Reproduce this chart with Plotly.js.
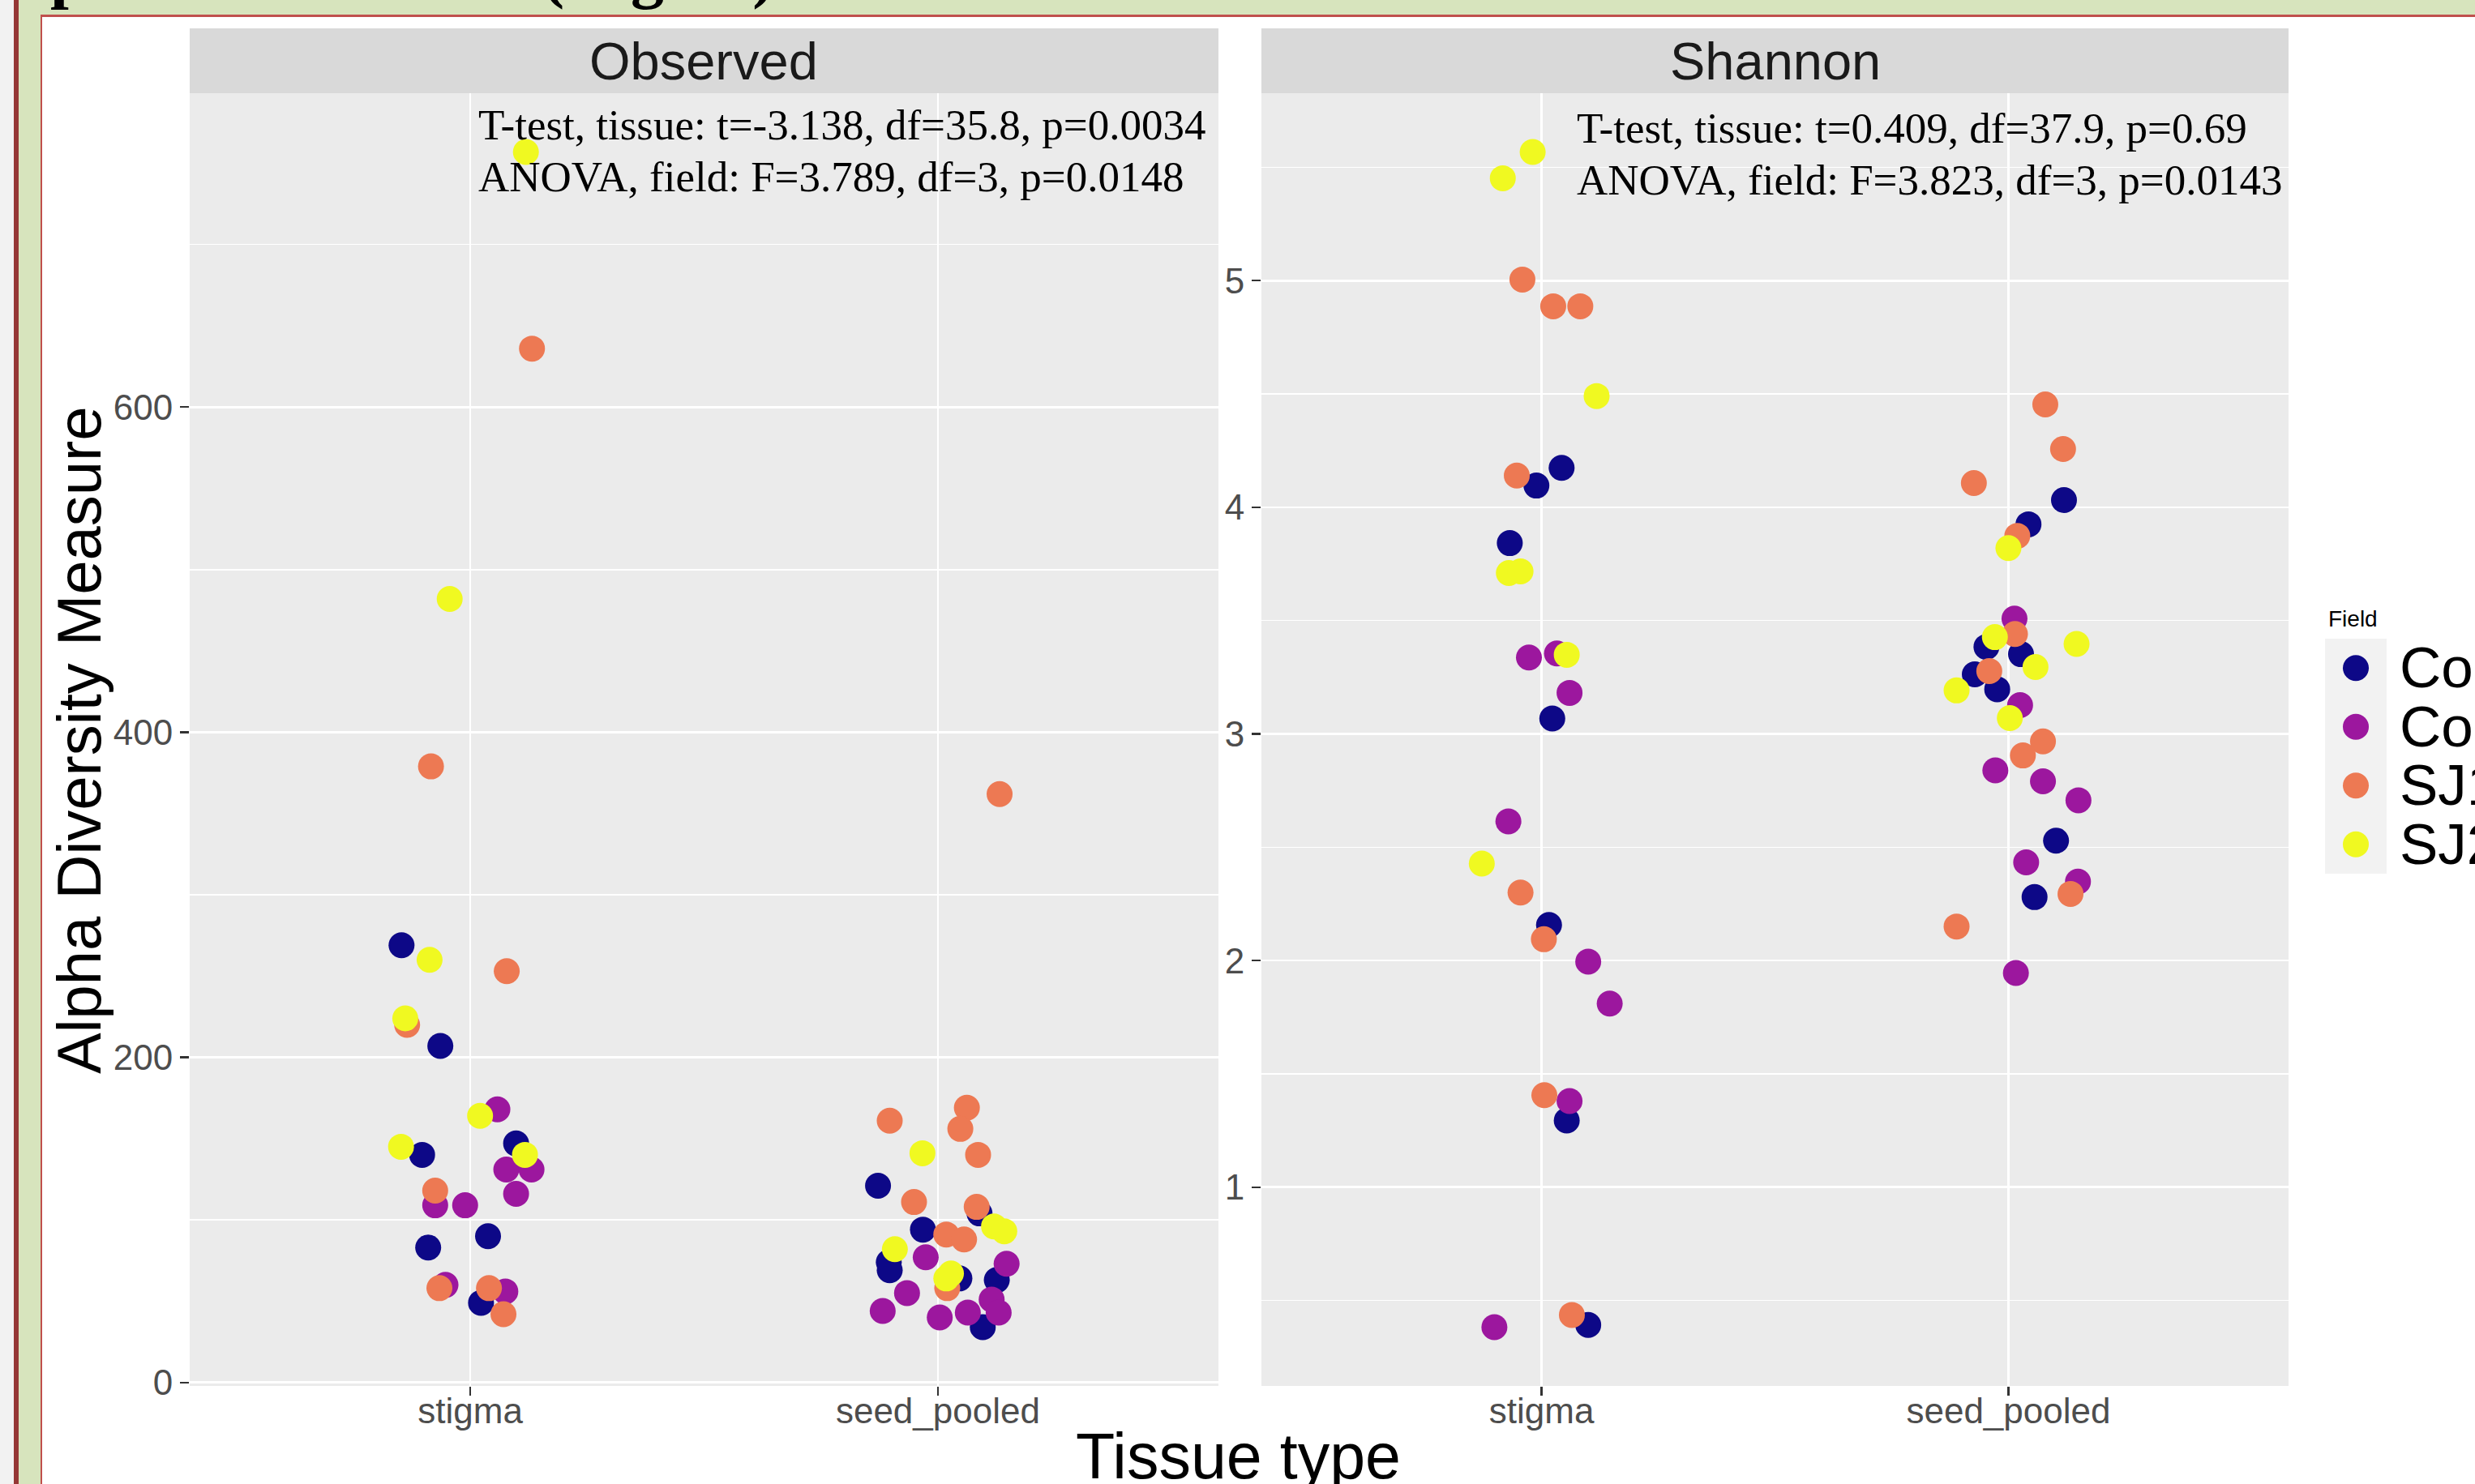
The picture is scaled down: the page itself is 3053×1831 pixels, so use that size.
<!DOCTYPE html>
<html>
<head>
<meta charset="utf-8">
<script src="https://cdn.plot.ly/plotly-3.0.1.min.js"></script>
<style>
html,body{margin:0;padding:0;background:#ffffff;overflow:hidden;}
#chart{position:absolute;left:0;top:0;width:3053px;height:1831px;}
#slideTitle{position:absolute;left:62px;top:-74px;font-family:"Liberation Serif","Times New Roman",serif;font-weight:bold;font-size:82px;line-height:82px;color:#000;white-space:nowrap;z-index:10;}
</style>
</head>
<body>
<div id="chart"></div>
<div id="slideTitle">pilot data results (stigma)</div>
<script>
// ---------- data ----------
const categories = ['stigma', 'seed_pooled'];
const fields = ['Co1', 'Co2', 'SJ1', 'SJ2'];
const fieldColors = ['#0D0887', '#9C179E', '#ED7953', '#F0F921'];
const facetTitles = ['Observed', 'Shannon'];
const statsObserved = ['T-test, tissue: t=-3.138, df=35.8, p=0.0034', 'ANOVA, field: F=3.789, df=3, p=0.0148'];
const statsShannon = ['T-test, tissue: t=0.409, df=37.9, p=0.69', 'ANOVA, field: F=3.823, df=3, p=0.0143'];

// Observed richness: tissue index (0 stigma, 1 seed_pooled), jitter offset, value
const obsCo1Tissue = [0,0,0,0,0,0,0, 1,1,1,1,1,1,1,1];
const obsCo1Jitter = [-0.147,-0.064,0.098,-0.103,0.038,-0.090,0.023, -0.128,0.089,-0.032,-0.105,-0.103,0.126,0.046,0.096];
const obsCo1Value  = [269,207,147,140,90,83,49, 121,104,94,74,69,63,64,34];
const obsCo2Tissue = [0,0,0,0,0,0,0,0, 1,1,1,1,1,1,1,1];
const obsCo2Jitter = [0.058,0.077,0.131,0.098,-0.075,-0.011,-0.053,0.075, -0.026,0.147,-0.066,-0.118,0.004,0.064,0.115,0.130];
const obsCo2Value  = [168,131,131,116,109,109,60,56, 77,73,55,44,40,43,51,43];
const obsSJ1Tissue = [0,0,0,0,0,0,0,0, 1,1,1,1,1,1,1,1,1,1];
const obsSJ1Jitter = [0.078,-0.135,-0.075,-0.066,0.040,0.071,0.132,-0.084, -0.103,0.062,0.048,0.086,-0.051,0.083,0.018,0.056,0.020,0.132];
const obsSJ1Value  = [253,220,118,58,58,42,636,379, 161,169,156,140,111,108,91,88,58,362];
const obsSJ2Tissue = [0,0,0,0,0,0,0, 1,1,1,1,1,1];
const obsSJ2Jitter = [-0.087,-0.139,0.021,0.117,-0.148,0.119,-0.044, -0.033,0.120,0.142,-0.092,0.028,0.018];
const obsSJ2Value  = [260,224,164,140,145,757,482, 141,96,93,82,67,64];

// Shannon index
const shaCo1Tissue = [0,0,0,0,0,0,0, 1,1,1,1,1,1,1,1];
const shaCo1Jitter = [-0.011,0.043,-0.068,0.023,0.016,0.054,0.100, 0.119,0.043,-0.047,0.027,-0.072,-0.024,0.102,0.056];
const shaCo1Value  = [4.096,4.174,3.842,3.068,2.157,1.294,0.392, 4.032,3.925,3.384,3.352,3.263,3.197,2.529,2.280];
const shaCo2Tissue = [0,0,0,0,0,0,0,0, 1,1,1,1,1,1,1,1];
const shaCo2Jitter = [-0.027,0.033,0.060,-0.071,0.100,0.146,0.060,-0.101, 0.013,0.025,-0.028,0.074,0.150,0.038,0.149,0.016];
const shaCo2Value  = [3.337,3.355,3.181,2.614,1.995,1.810,1.380,0.382, 3.509,3.127,2.839,2.791,2.707,2.433,2.348,1.945];
const shaSJ1Tissue = [0,0,0,0,0,0,0,0, 1,1,1,1,1,1,1,1,1,1];
const shaSJ1Jitter = [-0.041,0.025,0.083,-0.053,-0.045,0.005,0.006,0.065, 0.079,0.117,-0.074,0.019,0.014,-0.041,0.074,0.031,0.133,-0.111];
const shaSJ1Value  = [5.005,4.887,4.887,4.140,2.300,2.094,1.406,0.436, 4.454,4.257,4.107,3.874,3.441,3.277,2.967,2.905,2.294,2.150];
const shaSJ2Tissue = [0,0,0,0,0,0,0, 1,1,1,1,1,1];
const shaSJ2Jitter = [-0.019,-0.083,0.118,-0.070,-0.045,0.054,-0.128, 0.000,-0.029,0.146,0.058,-0.111,0.003];
const shaSJ2Value  = [5.568,5.452,4.491,3.710,3.717,3.349,2.428, 3.820,3.427,3.397,3.295,3.192,3.070];

// ---------- layout helpers ----------
const W = 3053, H = 1831;
const fx = v => v / W;
const fy = v => 1 - v / H;
const SANS = '"Liberation Sans", Arial, Helvetica, sans-serif';
const SERIF = '"Liberation Serif", "Times New Roman", serif';

const obsGroups = [
  [obsCo1Tissue, obsCo1Jitter, obsCo1Value],
  [obsCo2Tissue, obsCo2Jitter, obsCo2Value],
  [obsSJ1Tissue, obsSJ1Jitter, obsSJ1Value],
  [obsSJ2Tissue, obsSJ2Jitter, obsSJ2Value]
];
const shaGroups = [
  [shaCo1Tissue, shaCo1Jitter, shaCo1Value],
  [shaCo2Tissue, shaCo2Jitter, shaCo2Value],
  [shaSJ1Tissue, shaSJ1Jitter, shaSJ1Value],
  [shaSJ2Tissue, shaSJ2Jitter, shaSJ2Value]
];

function makeTraces(groups, xa, ya) {
  return groups.map((g, k) => ({
    type: 'scatter', mode: 'markers', name: fields[k],
    x: g[0].map((t, i) => t + 1 + g[1][i]),
    y: g[2],
    xaxis: xa, yaxis: ya,
    marker: {color: fieldColors[k], size: 32, line: {width: 0}},
    showlegend: false, hoverinfo: 'skip'
  }));
}
function ggRange(groups) {
  const all = [].concat(...groups.map(g => g[2]));
  const mn = Math.min(...all), mx = Math.max(...all);
  const d = (mx - mn) * 0.05;
  return [mn - d, mx + d];
}

const traces = [].concat(
  makeTraces(obsGroups, 'x', 'y'),
  makeTraces(shaGroups, 'x2', 'y2'),
  [{
    type: 'scatter', mode: 'markers',
    x: fields.map(() => 0.5), y: fields.map((f, i) => i + 0.5),
    xaxis: 'x3', yaxis: 'y3',
    marker: {color: fieldColors, size: 32, line: {width: 0}},
    showlegend: false, hoverinfo: 'skip'
  }]
);

const axisCommon = {
  showgrid: true, gridcolor: '#FFFFFF', gridwidth: 2.7,
  zeroline: false, showline: false,
  ticks: 'outside', ticklen: 11, tickwidth: 2.2, tickcolor: '#333333',
  tickfont: {family: SANS, size: 44, color: '#4D4D4D'},
  fixedrange: true
};
const panelY = [fy(1710), fy(115)];
const panel1X = [fx(234), fx(1503)];
const panel2X = [fx(1556), fx(2823)];

const layout = {
  width: W, height: H,
  margin: {l: 0, r: 0, t: 0, b: 0, pad: 0},
  paper_bgcolor: '#FFFFFF', plot_bgcolor: '#EBEBEB',
  showlegend: false,
  font: {family: SANS},
  xaxis: Object.assign({}, axisCommon, {domain: panel1X, anchor: 'y', range: [0.4, 2.6], tickmode: 'array', tickvals: [1, 2], ticktext: categories, ticklabelstandoff: -19}),
  yaxis: Object.assign({}, axisCommon, {domain: panelY, anchor: 'x', range: ggRange(obsGroups), tick0: 0, dtick: 200,
    minor: {dtick: 100, tick0: 0, showgrid: true, gridcolor: '#FFFFFF', gridwidth: 1.3, ticks: ''}}),
  xaxis2: Object.assign({}, axisCommon, {domain: panel2X, anchor: 'y2', range: [0.4, 2.6], tickmode: 'array', tickvals: [1, 2], ticktext: categories, ticklabelstandoff: -19}),
  yaxis2: Object.assign({}, axisCommon, {domain: panelY, anchor: 'x2', range: ggRange(shaGroups), tick0: 0, dtick: 1,
    minor: {dtick: 0.5, tick0: 0, showgrid: true, gridcolor: '#FFFFFF', gridwidth: 1.3, ticks: ''}}),
  xaxis3: {domain: [fx(2868), fx(2944)], anchor: 'y3', range: [0, 1], visible: false, fixedrange: true},
  yaxis3: {domain: [fy(1078), fy(788)], anchor: 'x3', range: [4, 0], visible: false, fixedrange: true},
  shapes: [
    // slide frame
    {type: 'rect', xref: 'paper', yref: 'paper', x0: 0, x1: fx(17), y0: 0, y1: 1, fillcolor: '#F2F2F2', line: {width: 0}, layer: 'below'},
    {type: 'rect', xref: 'paper', yref: 'paper', x0: fx(17), x1: fx(23), y0: 0, y1: 1, fillcolor: '#953735', line: {width: 0}, layer: 'below'},
    {type: 'rect', xref: 'paper', yref: 'paper', x0: fx(23), x1: fx(50), y0: 0, y1: 1, fillcolor: '#D7E4BD', line: {width: 0}, layer: 'below'},
    {type: 'rect', xref: 'paper', yref: 'paper', x0: fx(23), x1: 1, y0: fy(18), y1: 1, fillcolor: '#D7E4BD', line: {width: 0}, layer: 'below'},
    {type: 'rect', xref: 'paper', yref: 'paper', x0: fx(50), x1: 1, y0: fy(21), y1: fy(18), fillcolor: '#C0504D', line: {width: 0}, layer: 'below'},
    {type: 'rect', xref: 'paper', yref: 'paper', x0: fx(50), x1: fx(52), y0: 0, y1: fy(18), fillcolor: '#C0504D', line: {width: 0}, layer: 'below'},
    // facet strips
    {type: 'rect', xref: 'paper', yref: 'paper', x0: panel1X[0], x1: panel1X[1], y0: fy(115), y1: fy(35), fillcolor: '#D9D9D9', line: {width: 0}, layer: 'below'},
    {type: 'rect', xref: 'paper', yref: 'paper', x0: panel2X[0], x1: panel2X[1], y0: fy(115), y1: fy(35), fillcolor: '#D9D9D9', line: {width: 0}, layer: 'below'},
    // legend key background
    {type: 'rect', xref: 'paper', yref: 'paper', x0: fx(2868), x1: fx(2944), y0: fy(1078), y1: fy(788), fillcolor: '#F2F2F2', line: {width: 0}, layer: 'below'}
  ],
  annotations: []
};

const ann = layout.annotations;
function addText(text, x, y, size, opts) {
  ann.push(Object.assign({text: text, xref: 'paper', yref: 'paper', x: fx(x), y: fy(y), showarrow: false,
    xanchor: 'center', yanchor: 'middle', font: {family: SANS, size: size, color: '#000000'}}, opts || {}));
}
addText(facetTitles[0], 868.5, 75, 65, {font: {family: SANS, size: 65, color: '#1A1A1A'}});
addText(facetTitles[1], 2189.5, 75, 65, {font: {family: SANS, size: 65, color: '#1A1A1A'}});
statsObserved.forEach((t, i) => addText(t, 588, 154 + 64 * i, 53, {xanchor: 'left', font: {family: SERIF, size: 53, color: '#000000'}}));
statsShannon.forEach((t, i) => addText(t, 1943, 158 + 64 * i, 53, {xanchor: 'left', font: {family: SERIF, size: 53, color: '#000000'}}));
addText('Alpha Diversity Measure', 97, 913, 76, {textangle: -90});
addText('Tissue type', 1528, 1796, 79);
addText('Field', 2870, 763, 28, {xanchor: 'left'});
fields.forEach((f, i) => addText(f, 2958, 824 + 72.5 * i, 71, {xanchor: 'left'}));

Plotly.newPlot('chart', traces, layout, {staticPlot: true, displayModeBar: false});
</script>
</body>
</html>
